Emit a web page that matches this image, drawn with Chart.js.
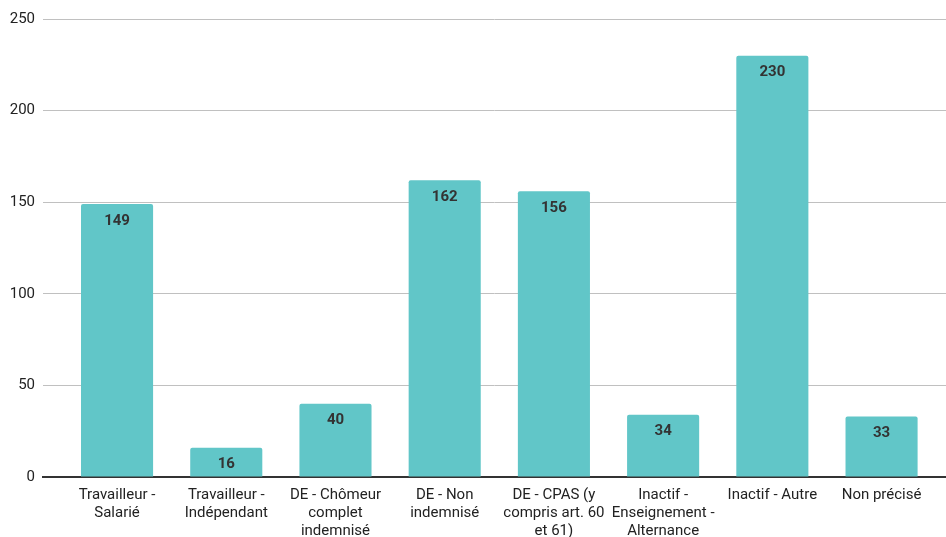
<!DOCTYPE html>
<html>
<head>
<meta charset="utf-8">
<script src="https://cdn.jsdelivr.net/npm/chart.js@4"></script>
<style>
  html, body { margin: 0; padding: 0; background: #fff; }
  #wrap { width: 946px; height: 537px; }
</style>
</head>
<body>
<div id="wrap"><canvas id="myChart"></canvas></div>
<script>
const categories = [
    ['Travailleur -', 'Salarié'],
    ['Travailleur -', 'Indépendant'],
    ['DE - Chômeur', 'complet', 'indemnisé'],
    ['DE - Non', 'indemnisé'],
    ['DE - CPAS (y', 'compris art. 60', 'et 61)'],
    ['Inactif -', 'Enseignement -', 'Alternance'],
    ['Inactif - Autre'],
    ['Non précisé']
];
const values = [149, 16, 40, 162, 156, 34, 230, 33];
const yTicks = [0, 50, 100, 150, 200, 250];

Chart.defaults.font.family = 'Roboto';
Chart.defaults.font.size = 14;
Chart.defaults.color = '#222';

// value written inside the top of each bar
const barLabels = {
    id: 'barLabels',
    afterDatasetsDraw(chart) {
        const c = chart.ctx;
        const meta = chart.getDatasetMeta(0);
        c.save();
        c.font = 'bold 15px Roboto';
        c.fillStyle = '#333';
        c.textAlign = 'center';
        c.textBaseline = 'middle';
        meta.data.forEach((bar, i) => {
            c.fillText(String(values[i]), bar.x, bar.y + 17);
        });
        c.restore();
    }
};

const ctx = document.getElementById('myChart');

new Chart(ctx, {
    type: 'bar',
    data: {
        datasets: [{
            label: 'Total',
            data: values.map((v, i) => ({ x: i, y: v })),
            backgroundColor: '#61c6c8',
            borderRadius: 2,
            borderSkipped: 'bottom',
            barPercentage: 0.66,
            categoryPercentage: 1
        }]
    },
    options: {
        responsive: true,
        maintainAspectRatio: false,
        animation: false,
        layout: { padding: { top: 19, right: 0, left: 0, bottom: 0 } },
        plugins: {
            legend: { display: false },
            tooltip: { enabled: false }
        },
        scales: {
            x: {
                type: 'linear',
                offset: false,
                min: -0.678,
                max: 7.59,
                grid: { display: false, offset: false },
                border: { display: true, color: '#333', width: 2 },
                afterFit(scale) { scale.height = 60; },
                ticks: {
                    stepSize: 1,
                    includeBounds: false,
                    autoSkip: false,
                    maxRotation: 0,
                    padding: 1,
                    color: '#222',
                    font: { size: 15, lineHeight: 1.2 },
                    callback: v => (Number.isInteger(v) && categories[v]) ? categories[v] : ''
                }
            },
            y: {
                min: 0,
                max: 250,
                afterFit(scale) { scale.width = 43; },
                afterBuildTicks(scale) { scale.ticks = yTicks.map(v => ({ value: v })); },
                grid: {
                    color: c => c.tick && c.tick.value === 0 ? 'rgba(0,0,0,0)' : '#c0c0c0',
                    lineWidth: 1,
                    drawTicks: false
                },
                border: { display: false },
                ticks: { padding: 8, color: '#222', font: { size: 15 } }
            }
        }
    },
    plugins: [barLabels]
});
</script>
</body>
</html>
